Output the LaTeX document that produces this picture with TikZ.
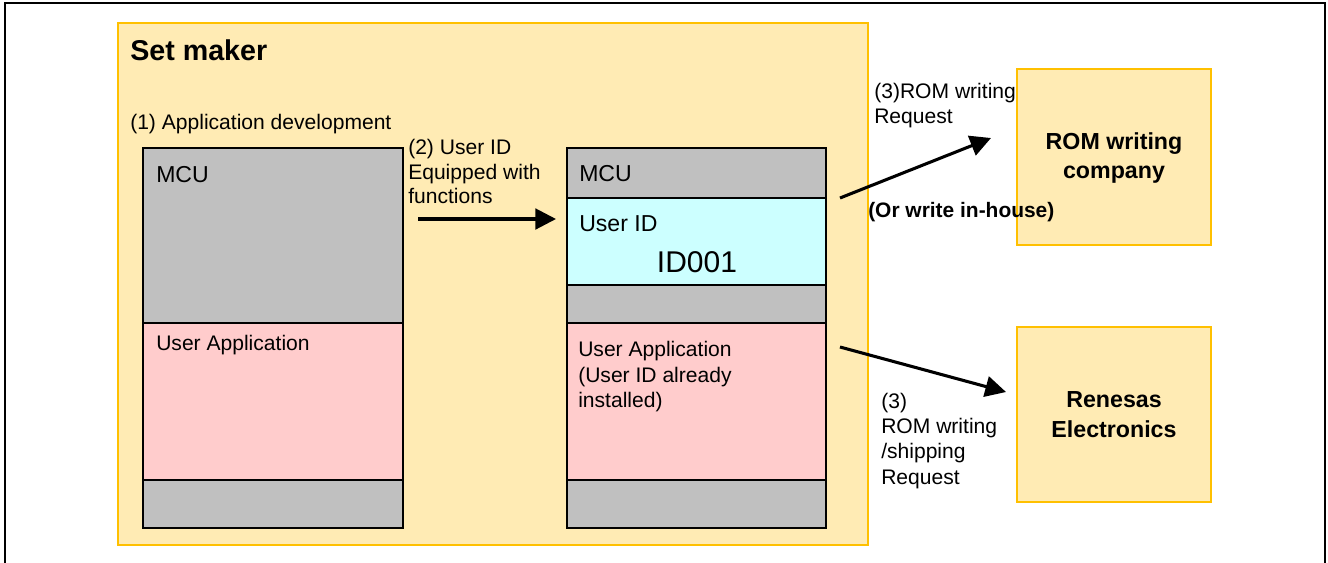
\documentclass[tikz,border=0pt]{standalone}
\usepackage{fontspec}
\setmainfont{Liberation Sans}
\usetikzlibrary{arrows.meta,fit}
\definecolor{setfill}{HTML}{FFEBB4}
\definecolor{setline}{HTML}{FFC000}
\definecolor{mcugray}{HTML}{C0C0C0}
\definecolor{apppink}{HTML}{FFCCCC}
\definecolor{idcyan}{HTML}{CCFFFF}
\tikzset{
  region/.style={inner sep=0pt, draw=setline, fill=setfill, line width=1.1pt},
  seg/.style={inner sep=0pt, draw=black, line width=1.6pt},
  txt/.style={anchor=base west, inner sep=0pt, font=\fontsize{15.8}{19}\selectfont},
  medtxt/.style={anchor=base west, inner sep=0pt, font=\fontsize{17.3}{21}\selectfont},
  idtxt/.style={anchor=base, inner sep=0pt, font=\fontsize{22.5}{27}\selectfont},
  titletxt/.style={anchor=base west, inner sep=0pt, font=\bfseries\fontsize{21.5}{26}\selectfont},
  boxtxt/.style={anchor=base, inner sep=0pt, font=\bfseries\fontsize{17.4}{21}\selectfont},
  boldtxt/.style={anchor=base west, inner sep=0pt, font=\bfseries\fontsize{15.7}{19}\selectfont},
  arr/.style={line width=2.3pt, -{Triangle[length=15.5pt,width=15.5pt]}}
}
\begin{document}
\begin{tikzpicture}[x=0.75pt,y=-0.75pt]
\useasboundingbox (0,0) rectangle (1328,562);
\node[fit={(5,3)(1325,580)}, inner sep=0pt, draw=black, line width=1.5pt] (frame) {};

% Set maker region
\node[region, fit={(118,23)(868,545)}] (setmaker) {};
\node[titletxt] (title) at (130,60) {Set maker};
\node[txt] (step1) at (130,129) {(1) Application development};

% Left MCU
\node[seg, fill=mcugray, fit={(143,148)(403,323)}] (lmcu) {};
\node[seg, fill=apppink, fit={(143,323)(403,480)}] (lapp) {};
\node[seg, fill=mcugray, fit={(143,480)(403,528)}] (lbot) {};
\node[medtxt] (lmcut) at (156,182) {MCU};
\node[txt] (lappt) at (156,350) {User Application};

% Step 2 label
\node[txt] (s2a) at (408,154) {(2) User ID};
\node[txt] (s2b) at (408,179) {Equipped with};
\node[txt] (s2c) at (408,203) {functions};

% Right MCU
\node[seg, fill=mcugray, fit={(567,148)(826,198)}] (rmcu) {};
\node[seg, fill=idcyan, fit={(567,198)(826,285)}] (rid) {};
\node[seg, fill=mcugray, fit={(567,285)(826,323)}] (rgap) {};
\node[seg, fill=apppink, fit={(567,323)(826,480)}] (rapp) {};
\node[seg, fill=mcugray, fit={(567,480)(826,528)}] (rbot) {};
\node[medtxt] (rmcut) at (579,181) {MCU};
\node[medtxt] (ridt) at (579,231) {User ID};
\node[idtxt] (idval) at (697,272) {ID001};
\node[txt] (rapp1) at (578,356) {User Application};
\node[txt] (rapp2) at (578,382) {(User ID already};
\node[txt] (rapp3) at (578,407) {installed)};

% External boxes
\node[region, fit={(1017,69)(1211,245)}] (romco) {};
\node[boxtxt] (romco1) at (1114,149) {ROM writing};
\node[boxtxt] (romco2) at (1114,178) {company};
\node[region, fit={(1017,327)(1211,502)}] (renesas) {};
\node[boxtxt] (ren1) at (1114,407) {Renesas};
\node[boxtxt] (ren2) at (1114,437) {Electronics};

% Labels for step 3
\node[txt] (s3a) at (874,98) {(3)ROM writing};
\node[txt] (s3b) at (874,123) {Request};
\node[boldtxt] (inhouse) at (868,217) {(Or write in-house)};
\node[txt] (s3c) at (881,408) {(3)};
\node[txt] (s3d) at (881,433) {ROM writing};
\node[txt] (s3e) at (881,458) {/shipping};
\node[txt] (s3f) at (881,484) {Request};

% Arrows
\coordinate (a2s) at (418,219);
\coordinate (a2e) at (556,219);
\draw[arr] (a2s) -- (a2e);
\coordinate (a3s) at (840,198);
\coordinate (a3e) at (991,138);
\draw[arr] (a3s) -- (a3e);
\coordinate (a4s) at (840,347);
\coordinate (a4e) at (1006,392);
\draw[arr] (a4s) -- (a4e);
\end{tikzpicture}
\end{document}
